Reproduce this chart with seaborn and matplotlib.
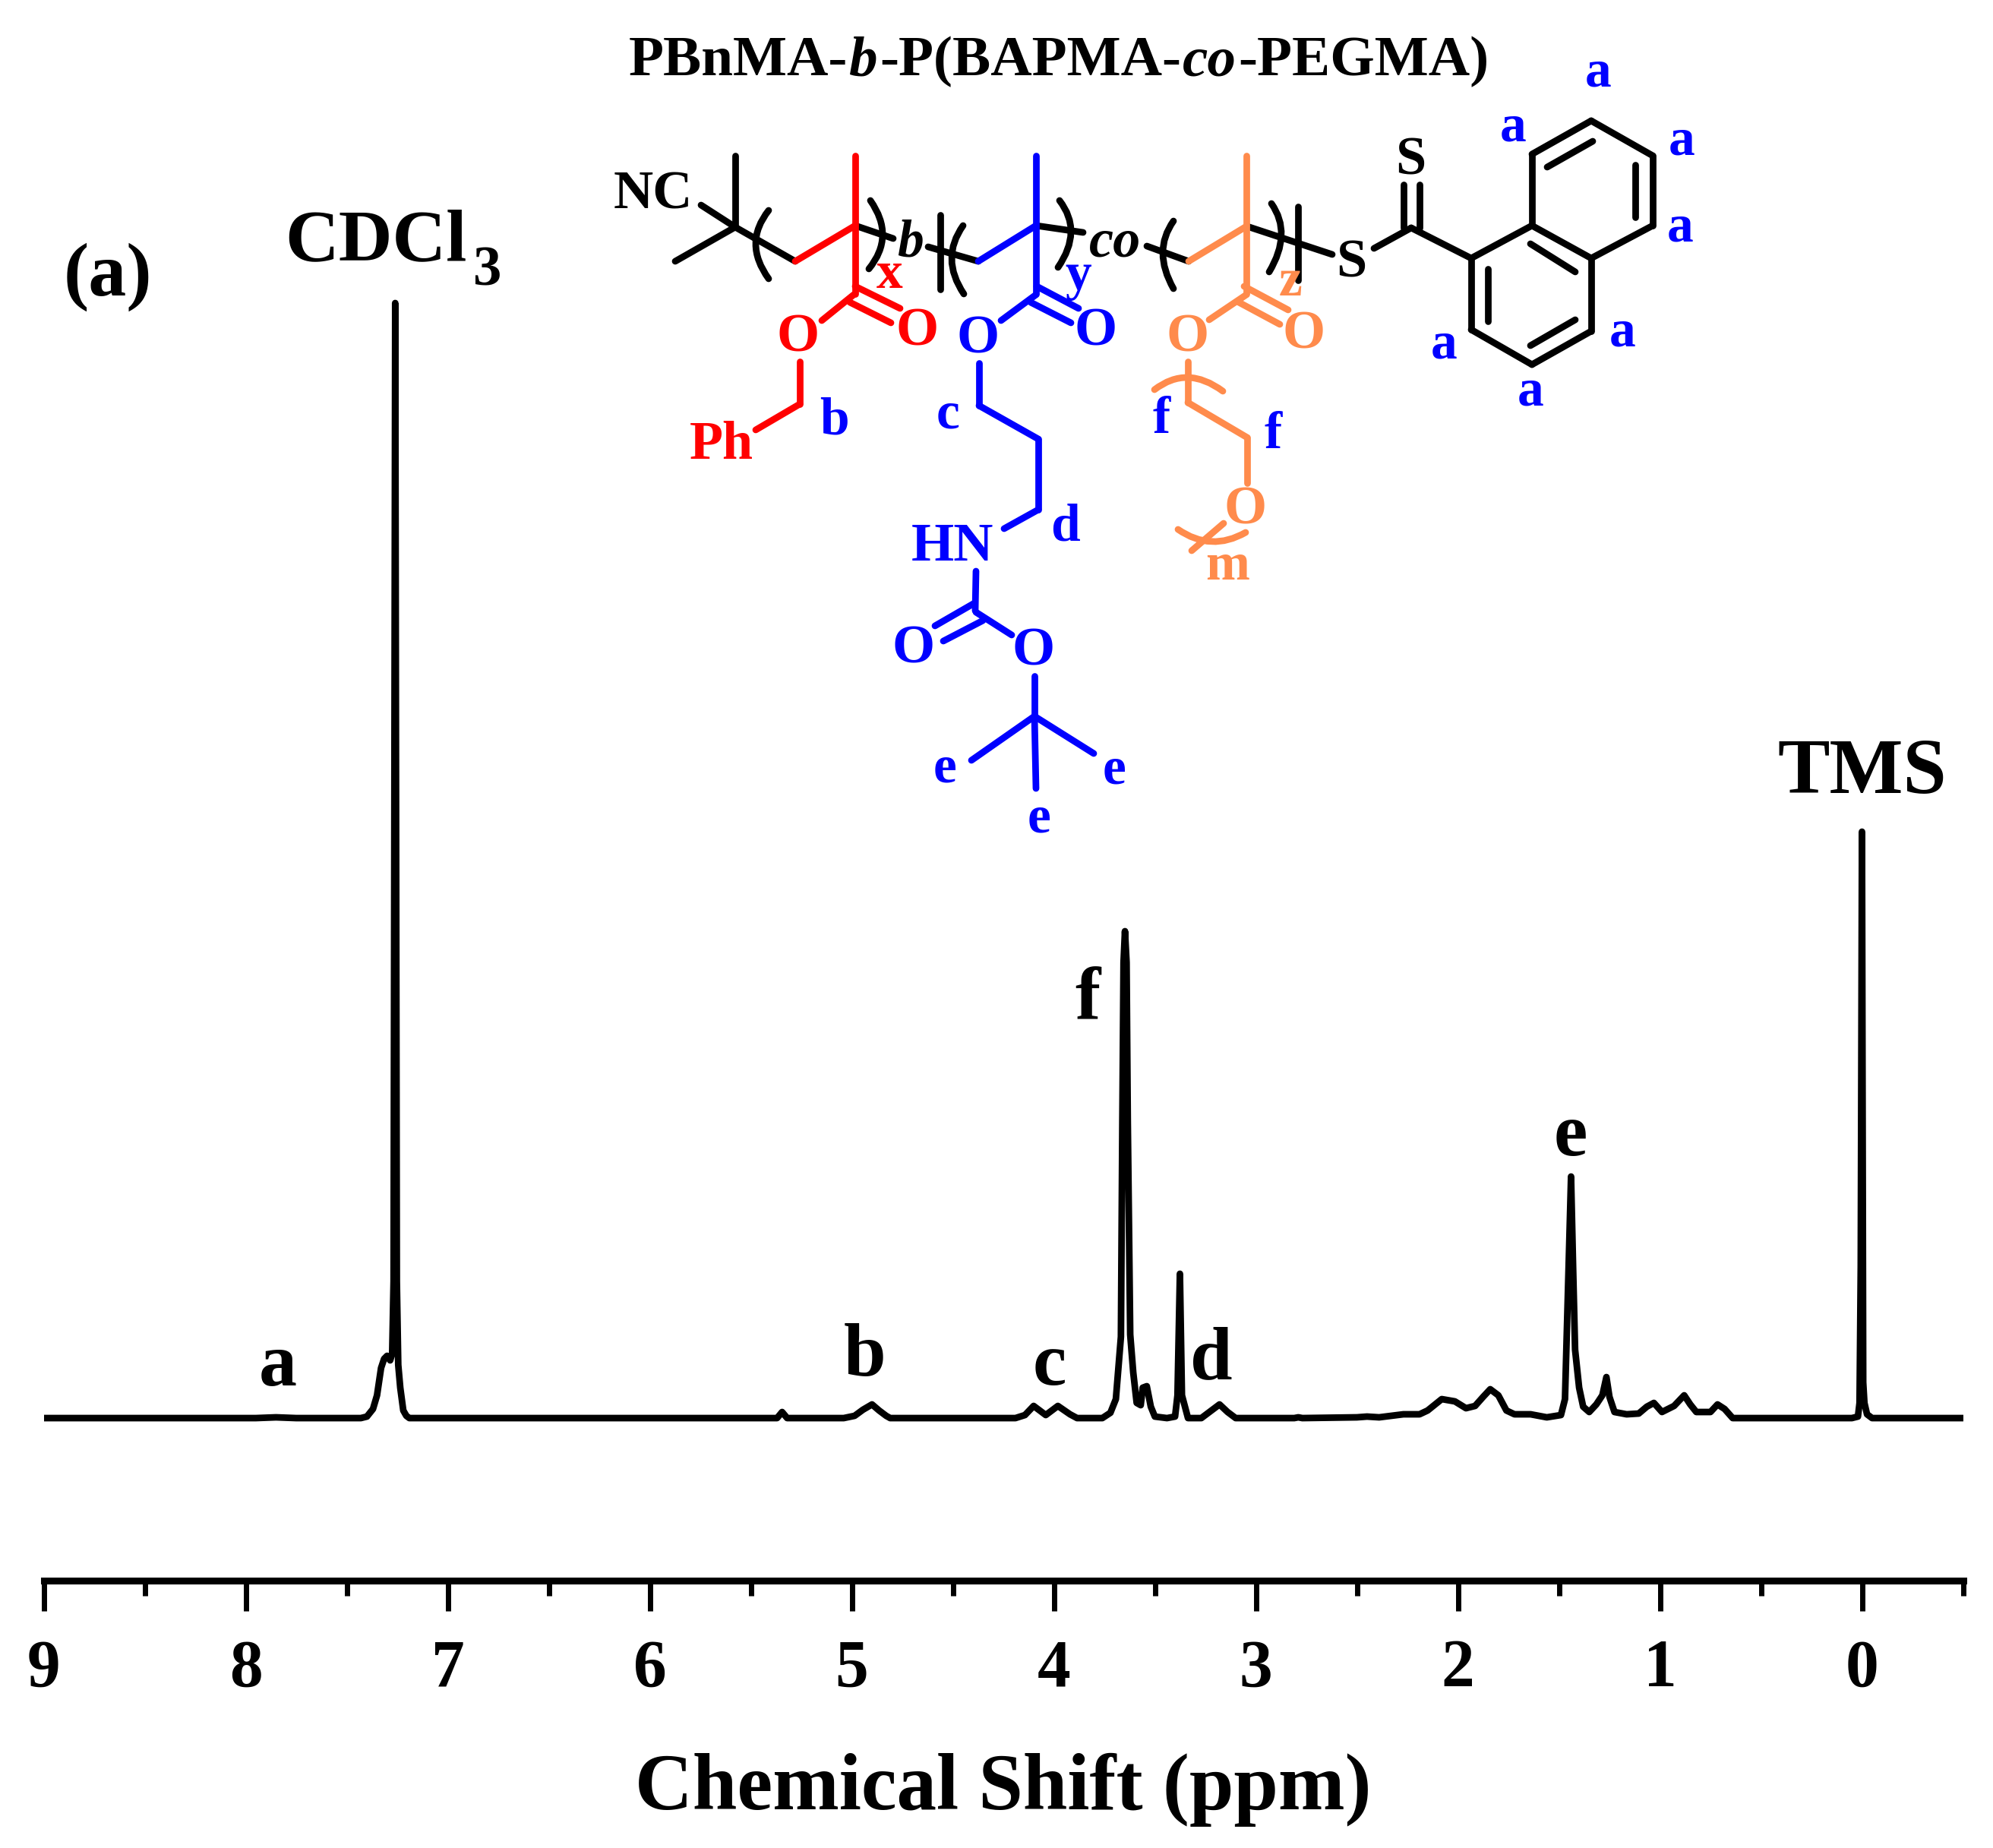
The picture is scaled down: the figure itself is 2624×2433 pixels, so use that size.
import numpy as np
import pandas as pd
import matplotlib
matplotlib.use("Agg")
import matplotlib.pyplot as plt
import seaborn as sns
from matplotlib.patches import PathPatch
from matplotlib.path import Path
from matplotlib.ticker import MultipleLocator

# spectrum, intensity in arbitrary units
ppm = [9.0, 8.2, 7.95, 7.85, 7.75, 7.43, 7.40, 7.37, 7.35, 7.33, 7.315, 7.30, 7.285, 7.275, 7.268, 7.26, 7.252, 7.245, 7.235, 7.22, 7.205, 7.19,
       6.0, 5.37, 5.345, 5.32, 5.04, 4.986, 4.945, 4.90, 4.865, 4.83, 4.81,
       4.19, 4.143, 4.10, 4.04, 3.98, 3.92, 3.885, 3.76, 3.72, 3.693, 3.668, 3.661, 3.655, 3.648, 3.64, 3.634, 3.622, 3.607,
       3.59, 3.57, 3.56, 3.54, 3.52, 3.50, 3.44, 3.40, 3.388, 3.376, 3.366, 3.336, 3.27, 3.23, 3.18, 3.14, 3.10,
       2.81, 2.79, 2.77, 2.50, 2.45, 2.39, 2.27, 2.19, 2.15, 2.08, 2.015, 1.96, 1.915, 1.875, 1.84, 1.80, 1.76, 1.72,
       1.64, 1.56, 1.49, 1.47, 1.452, 1.44, 1.43, 1.42, 1.40, 1.38, 1.35, 1.315, 1.285, 1.265, 1.25, 1.225, 1.165,
       1.105, 1.065, 1.03, 0.99, 0.93, 0.88, 0.85, 0.82, 0.75, 0.715, 0.68, 0.64,
       0.05, 0.02, 0.012, 0.006, 0.0, -0.006, -0.012, -0.025, -0.05, -0.5]
intensity = [0, 0, 0, 1, 0, 0, 2, 12, 30, 66, 78, 82, 76, 85, 180, 1468, 180, 70, 40, 10, 3, 0,
             0, 0, 8, 0, 0, 3, 11, 18, 10, 3, 0,
             0, 4, 16, 4, 16, 5, 0, 0, 7, 25, 107, 390, 600, 641, 600, 390, 110, 60,
             20, 17, 40, 42, 15, 2, 0, 2, 30, 190, 30, 0, 0, 8, 18, 8, 0,
             0, 1, 0, 1, 2, 1, 5, 5, 10, 25, 22, 13, 16, 28, 38, 30, 10, 5,
             5, 1, 4, 25, 200, 318, 200, 90, 40, 15, 8, 18, 30, 54, 28, 8, 5,
             6, 15, 20, 8, 16, 30, 18, 8, 8, 18, 12, 0,
             0, 2, 20, 200, 772, 47, 20, 5, 0, 0]
major_ticks = [9, 8, 7, 6, 5, 4, 3, 2, 1, 0]
peak_names = ["a", "b", "c", "f", "d", "e"]

W, H = 2624, 2433
BLACK, RED, BLUE, ORANGE = "#000000", "#FF0000", "#0000FF", "#FF8B4C"
SERIF = "Liberation Serif"
BOND = 6.3

sns.set_theme(style="white", font=SERIF)
plt.rcParams["font.family"] = [SERIF, "DejaVu Serif"]
plt.rcParams["font.weight"] = "bold"

fig = plt.figure(figsize=(W / 100, H / 100), dpi=100, facecolor="white")
ax = fig.add_axes([57.5 / W, 1 - 2081 / H, 2527 / W, 2081 / H])

df = pd.DataFrame({"ppm": ppm, "intensity": intensity})
sns.lineplot(data=df, x="ppm", y="intensity", sort=False, estimator=None, color=BLACK, lw=6.3, ax=ax)
ax.set_xlim(9, -0.5)
ax.set_ylim(-214, 1867)
sns.despine(ax=ax, left=True)
ax.spines["bottom"].set_linewidth(6.5)
ax.spines["bottom"].set_color(BLACK)
ax.set_yticks([])
ax.set_ylabel("")
ax.set_xticks(major_ticks)
ax.xaxis.set_minor_locator(MultipleLocator(0.5))
ax.tick_params(axis="x", which="major", bottom=True, length=29, width=5, pad=26, labelsize=63, color=BLACK, labelcolor=BLACK)
ax.tick_params(axis="x", which="minor", bottom=True, length=14.5, width=5, color=BLACK)
ax.set_xlabel("Chemical Shift (ppm)", fontsize=75.7, fontweight="bold", labelpad=50, color=BLACK)

# overlay in image pixels for the annotations and the structure drawing
ov = fig.add_axes([0, 0, 1, 1])
ov.set_xlim(0, W)
ov.set_ylim(H, 0)
ov.axis("off")
ov.patch.set_alpha(0)


def label(x, y, s, color=BLACK, size=50, **kw):
    dy = 5 if size >= 52 else 2
    ov.text(x, y + dy, s, color=color, fontsize=size, fontweight="bold", ha="center", va="center", zorder=5, **kw)


def bonds(segs, color=BLACK):
    for (x0, y0), (x1, y1) in segs:
        ov.plot([x0, x1], [y0, y1], color=color, lw=BOND, solid_capstyle="round", zorder=3)


def arc(p0, p1, p2, color=BLACK):
    # p1 is the point the curve passes through
    c = (2 * p1[0] - (p0[0] + p2[0]) / 2, 2 * p1[1] - (p0[1] + p2[1]) / 2)
    path = Path([p0, c, p2], [Path.MOVETO, Path.CURVE3, Path.CURVE3])
    ov.add_patch(PathPatch(path, fill=False, edgecolor=color, lw=BOND, capstyle="round", zorder=3))


# title, bold with bold italic pieces
pieces = [("PBnMA-", "normal"), ("b", "italic"), ("-P(BAPMA-", "normal"), ("co", "italic"), ("-PEGMA)", "normal")]
x_pos = 828
renderer = fig.canvas.get_renderer()
for s, style in pieces:
    t = ov.text(x_pos, 99, s, fontsize=54.2, fontweight="bold", fontstyle=style, color=BLACK, ha="left", va="baseline")
    x_pos += t.get_window_extent(renderer).width + 2

# spectrum annotations
label(142, 360, "(a)", size=72)
ov.text(375, 343, "CDCl", fontsize=70.6, fontweight="bold", color=BLACK, ha="left", va="baseline")
label(642, 353, "3", size=54)
label(2452, 1014, "TMS", size=74)
peak_xy = [(366, 1795), (1138, 1782), (1382, 1794), (1432, 1314), (1595, 1786), (2068, 1492)]
for name, (px, py) in zip(peak_names, peak_xy):
    label(px, py, name, size=72)

# backbone
bonds([((968, 205), (968, 299)), ((968, 299), (923, 270)), ((968, 299), (889, 344)), ((968, 299), (1047, 344)),
       ((1126, 297), (1176, 314)), ((1238, 283), (1238, 381)), ((1222, 325), (1288, 344)),
       ((1364, 297), (1426, 306)), ((1510, 324), (1565, 344)),
       ((1642, 298), (1754, 335)), ((1709, 272), (1709, 369)),
       ((1809, 327), (1858, 300)), ((1848, 243), (1848, 300)), ((1869, 243), (1869, 300)), ((1858, 300), (1937, 340))])
arc((1012, 277), (995, 321), (1012, 367))
arc((1146, 264), (1162, 310), (1144, 354))
arc((1268, 297), (1253, 341), (1269, 387))
arc((1395, 264), (1410, 306), (1393, 352))
arc((1545, 291), (1531, 333), (1545, 380))
arc((1674, 268), (1687, 310), (1671, 358))

# red block
bonds([((1047, 344), (1126, 297)), ((1126, 205), (1126, 387)), ((1126, 377), (1185, 406)), ((1119, 398), (1173, 425)),
       ((1124, 388), (1082, 422)), ((1053, 476), (1053, 532)), ((1053, 532), (995, 566))], RED)
# blue block
bonds([((1288, 344), (1364, 297)), ((1364, 205), (1364, 387)), ((1365, 377), (1420, 406)), ((1357, 398), (1410, 425)),
       ((1364, 388), (1318, 422)), ((1289, 478), (1289, 534)), ((1289, 534), (1367, 578)), ((1367, 578), (1367, 671)),
       ((1367, 671), (1322, 696)), ((1285, 752), (1284, 804)), ((1283, 794), (1231, 824)), ((1294, 817), (1242, 844)),
       ((1285, 806), (1332, 836)), ((1362, 890), (1362, 943)), ((1362, 943), (1279, 1001)), ((1362, 943), (1440, 992)),
       ((1362, 943), (1364, 1038))], BLUE)
# orange block
bonds([((1565, 344), (1641, 298)), ((1641, 205), (1641, 387)), ((1638, 377), (1696, 408)), ((1631, 398), (1685, 427)),
       ((1641, 388), (1592, 421)), ((1564, 476), (1564, 530)), ((1564, 530), (1642, 576)), ((1642, 576), (1642, 636)),
       ((1611, 689), (1569, 725))], ORANGE)
arc((1520, 513), (1564, 497), (1610, 515), ORANGE)
arc((1551, 697), (1595, 713), (1640, 701), ORANGE)
# naphthyl
ring = [(1937, 340), (2017, 297), (2095, 340), (2095, 436), (2017, 480), (1937, 434), (1937, 340)]
ring2 = [(2017, 297), (2017, 203), (2095, 159), (2176, 205), (2176, 297), (2095, 340)]
bonds(list(zip(ring[:-1], ring[1:])))
bonds(list(zip(ring2[:-1], ring2[1:])))
bonds([((2037, 220), (2097, 186)), ((2153, 217), (2153, 286)), ((2015, 321), (2074, 358)),
       ((1959, 354), (1959, 423)), ((2015, 455), (2074, 421))])

# atoms and labels on the structure
for x, y, s in [(860, 252, "NC"), (1857, 207, "S"), (1779, 342, "S")]:
    label(x, y, s, size=52)
ov.text(1198, 320, "b", color=BLACK, fontsize=50, fontweight="bold", fontstyle="italic", ha="center", va="center", zorder=5)
ov.text(1468, 320, "co", color=BLACK, fontsize=52, fontweight="bold", fontstyle="italic", ha="center", va="center", zorder=5)
for x, y, s in [(1051, 440, "O"), (1208, 432, "O"), (950, 581, "Ph")]:
    label(x, y, s, RED, 52)
label(1171, 360, "x", RED, 50)
for x, y, s in [(1288, 442, "O"), (1443, 432, "O"), (1254, 715, "HN"), (1203, 850, "O"), (1361, 853, "O")]:
    label(x, y, s, BLUE, 52)
label(1420, 362, "y", BLUE, 50)
for x, y, s in [(1098, 552, "b"), (1248, 545, "c"), (1529, 551, "f"), (1676, 571, "f"), (1403, 692, "d"),
                (1244, 1011, "e"), (1467, 1013, "e"), (1368, 1076, "e"),
                (2104, 94, "a"), (1992, 166, "a"), (2214, 185, "a"), (2212, 298, "a"),
                (2136, 436, "a"), (1901, 453, "a"), (2015, 515, "a")]:
    label(x, y, s, BLUE, 50)
for x, y, s in [(1564, 440, "O"), (1717, 436, "O"), (1640, 667, "O")]:
    label(x, y, s, ORANGE, 52)
label(1699, 370, "z", ORANGE, 50)
label(1616, 744, "m", ORANGE, 50)

fig.savefig("out.png", dpi=100, facecolor="white")
